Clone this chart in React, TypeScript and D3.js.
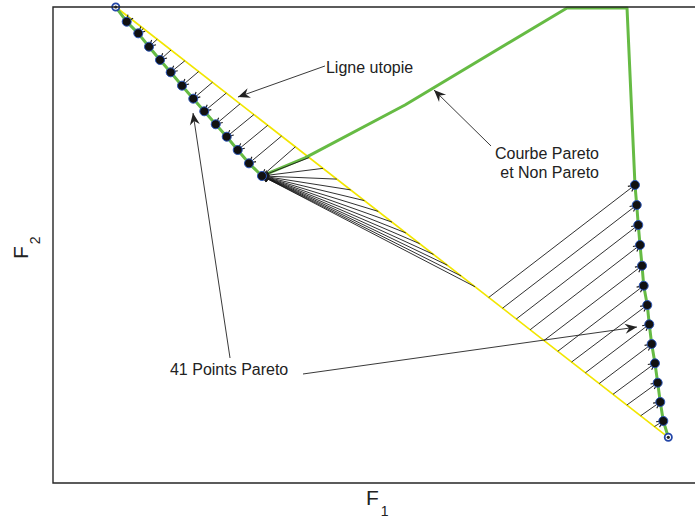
import React from 'react';
import * as d3 from 'd3';

// anchor points (ends of the utopia line)
const anchorA = [0.97, 10.0];
const anchorB = [9.51, 0.96];

// 41 Pareto points found by NBI (knee repeated for the collapsed sub-problems)
const paretoF1 = [
  0.97, 1.139, 1.318, 1.484, 1.654, 1.819, 1.994, 2.168, 2.338, 2.515, 2.685, 2.855, 3.029,
  3.23, 3.23, 3.23, 3.23, 3.23, 3.23, 3.23, 3.23, 3.23, 3.23, 3.23, 3.23, 3.23, 3.23,
  8.995, 9.022, 9.046, 9.073, 9.104, 9.13, 9.185, 9.216, 9.253, 9.304, 9.346, 9.386, 9.433, 9.51,
];
const paretoF2 = [
  10.0, 9.691, 9.447, 9.166, 8.887, 8.628, 8.347, 8.074, 7.809, 7.536, 7.275, 6.996, 6.716,
  6.45, 6.45, 6.45, 6.45, 6.45, 6.45, 6.45, 6.45, 6.45, 6.45, 6.45, 6.45, 6.45, 6.45,
  6.261, 5.84, 5.42, 5.0, 4.565, 4.145, 3.739, 3.334, 2.92, 2.515, 2.107, 1.702, 1.303, 0.96,
];
// position of each sub-problem's start point along the utopia line
const utopiaT = [
  0, 0.025, 0.05, 0.075, 0.1, 0.125, 0.15, 0.175, 0.2, 0.225, 0.25, 0.275, 0.3, 0.325,
  0.35, 0.375, 0.4, 0.425, 0.45, 0.475, 0.5, 0.525, 0.55, 0.575, 0.6, 0.625, 0.65, 0.675,
  0.7, 0.725, 0.75, 0.775, 0.8, 0.825, 0.85, 0.875, 0.9, 0.925, 0.95, 0.975, 1,
];
// non-Pareto part of the front (from knee up over the top and down to the right branch)
const nonParetoF1 = [3.23, 3.895, 5.44, 7.944, 8.872, 8.995];
const nonParetoF2 = [6.45, 6.83, 7.941, 9.979, 9.979, 6.261];

const annotations = [
  { text: ['Ligne utopie'], tx: 4.219, ty: 8.613, anchor: 'start', arrows: [[4.204, 8.761, 2.859, 8.109]] },
  { text: ['Courbe Pareto', 'et Non Pareto'], tx: 8.439, ty: 6.807, anchor: 'end', arrows: [[6.77, 7.08, 5.889, 8.256]] },
  {
    text: ['41 Points Pareto'], tx: 1.808, ty: 2.269, anchor: 'start',
    arrows: [[2.736, 2.626, 2.164, 7.773], [3.864, 2.29, 9.026, 3.277]],
  },
];

const W = 695;
const H = 520;
const x = d3.scaleLinear().domain([0, 10]).range([53, 700]);
const y = d3.scaleLinear().domain([0, 10]).range([483, 7]);

const font = '"Liberation Sans", Arial, Helvetica, sans-serif';

function vHead(x1: number, y1: number, x2: number, y2: number, len: number, half: number) {
  const a = Math.atan2(y2 - y1, x2 - x1);
  const c = Math.cos(a), s = Math.sin(a);
  const bx = x2 - len * c, by = y2 - len * s;
  return `M${bx - half * s},${by + half * c}L${x2},${y2}L${bx + half * s},${by - half * c}`;
}

function fillHead(x1: number, y1: number, x2: number, y2: number) {
  const a = Math.atan2(y2 - y1, x2 - x1);
  const c = Math.cos(a), s = Math.sin(a);
  const len = 12, half = 5, notch = 8;
  const bx = x2 - len * c, by = y2 - len * s;
  const nx = x2 - notch * c, ny = y2 - notch * s;
  return `M${x2},${y2}L${bx - half * s},${by + half * c}L${nx},${ny}L${bx + half * s},${by - half * c}Z`;
}

export default function App() {
  const line = d3.line<number[]>().x(d => x(d[0])).y(d => y(d[1]));
  const pareto = paretoF1.map((f, i) => [f, paretoF2[i]]);
  const utopia = utopiaT.map(t => [
    anchorA[0] + t * (anchorB[0] - anchorA[0]),
    anchorA[1] + t * (anchorB[1] - anchorA[1]),
  ]);
  const leftBranch = pareto.slice(0, 14);
  const rightBranch = pareto.slice(27);
  const nonPareto = nonParetoF1.map((f, i) => [f, nonParetoF2[i]]);
  const front = [...leftBranch, ...nonPareto.slice(1), ...rightBranch.slice(1)];
  const uniquePts = pareto.filter((p, i) => i > 0 && i < 40 && (i <= 13 || i >= 27));

  return (
    <svg width={W} height={H} style={{ position: 'absolute', left: 0, top: 0, background: '#fff' }}>
      <rect x={0} y={0} width={W} height={H} fill="#fff" />
      {/* utopia line */}
      <path d={line([anchorA, anchorB]) || ''} stroke="#f2e600" strokeWidth={1.7} fill="none" />
      {/* pareto / non pareto front */}
      <path d={line(front) || ''} stroke="#66bb44" strokeWidth={3} fill="none" strokeLinejoin="round" />
      {/* NBI search arrows */}
      {pareto.map((p, i) => {
        const u = utopia[i];
        if (i === 0 || i === 40) return null;
        const x1 = x(u[0]), y1 = y(u[1]), x2 = x(p[0]), y2 = y(p[1]);
        return (
          <g key={i} stroke="#1a1a1a" fill="none" strokeWidth={0.9}>
            <line x1={x1} y1={y1} x2={x2} y2={y2} />
            <path d={vHead(x1, y1, x2, y2, 6.5, 3.2)} strokeWidth={1.1} />
          </g>
        );
      })}
      {/* pareto markers */}
      {uniquePts.map((p, i) => (
        <circle key={i} cx={x(p[0])} cy={y(p[1])} r={4.5} fill="#111" stroke="#2a55b8" strokeWidth={1} />
      ))}
      {[anchorA, anchorB].map((p, i) => (
        <g key={'a' + i}>
          <circle cx={x(p[0])} cy={y(p[1])} r={3.6} fill="#fff" stroke="#2346a8" strokeWidth={1.8} />
          <circle cx={x(p[0])} cy={y(p[1])} r={1.6} fill="#222" />
        </g>
      ))}
      {/* axes frame */}
      <path d={`M${x(10.5)},${y(10)}H${x(0)}V${y(0)}H${x(10.5)}`} stroke="#262626" strokeWidth={1.4} fill="none" />
      {/* annotations */}
      {annotations.map((a, k) => (
        <g key={'n' + k}>
          {a.arrows.map((ar, j) => {
            const x1 = x(ar[0]), y1 = y(ar[1]), x2 = x(ar[2]), y2 = y(ar[3]);
            return (
              <g key={j}>
                <line x1={x1} y1={y1} x2={x2} y2={y2} stroke="#222" strokeWidth={0.9} />
                <path d={fillHead(x1, y1, x2, y2)} fill="#222" />
              </g>
            );
          })}
          <text x={x(a.tx)} y={y(a.ty)} fontFamily={font} fontSize={16} fill="#222" textAnchor={a.anchor}>
            {a.text.map((t, j) => (
              <tspan key={j} x={x(a.tx)} dy={j === 0 ? 0 : 19}>{t}</tspan>
            ))}
          </text>
        </g>
      ))}
      {/* axis labels */}
      <text x={366} y={505} fontFamily={font} fontSize={21} fill="#222">
        F<tspan fontSize={14} dx={2} dy={11}>1</tspan>
      </text>
      <text transform="translate(28,259) rotate(-90)" fontFamily={font} fontSize={21} fill="#222">
        F<tspan fontSize={14} dx={2} dy={12}>2</tspan>
      </text>
    </svg>
  );
}
